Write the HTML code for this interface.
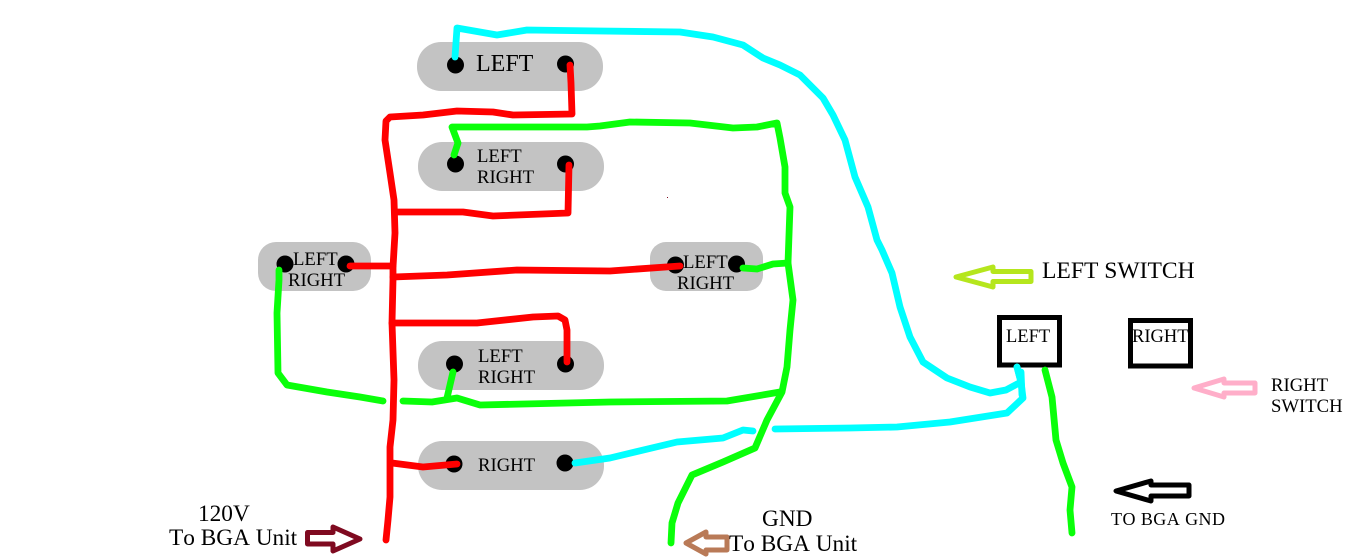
<!DOCTYPE html>
<html>
<head>
<meta charset="utf-8">
<style>
html,body{margin:0;padding:0;background:#fff;}
svg{display:block;}
text{font-family:"Liberation Serif",serif;fill:#000;font-kerning:none;}
.w{fill:none;stroke-width:6.8;stroke-linejoin:round;stroke-linecap:round;}
.r{stroke:#ff0000;}
.g{stroke:#0aff0a;}
.c{stroke:#00ffff;}
.a{fill:none;stroke-width:5;stroke-linejoin:round;}
</style>
</head>
<body>
<svg width="1360" height="557" viewBox="0 0 1360 557" xmlns="http://www.w3.org/2000/svg">
<rect width="1360" height="557" fill="#fff"/>
<g fill="#c3c3c3">
<rect x="417" y="42" width="186" height="49" rx="24"/>
<rect x="418" y="142" width="186" height="49" rx="24"/>
<rect x="258" y="242" width="113" height="49" rx="18"/>
<rect x="650" y="242" width="113" height="49" rx="16"/>
<rect x="418" y="341" width="186" height="49" rx="24"/>
<rect x="418" y="441" width="186" height="49" rx="24"/>
</g>
<g fill="#000">
<circle cx="455.5" cy="65" r="8.5"/><circle cx="565.5" cy="64" r="8.5"/>
<circle cx="455.5" cy="164" r="8.5"/><circle cx="565.5" cy="164" r="8.5"/>
<circle cx="285" cy="264" r="8.5"/><circle cx="346" cy="264" r="8.5"/>
<circle cx="675.5" cy="265" r="8.5"/><circle cx="736.5" cy="264" r="8.5"/>
<circle cx="454.5" cy="364" r="8.5"/><circle cx="565.5" cy="364" r="8.5"/>
<circle cx="454" cy="464" r="8.5"/><circle cx="565" cy="463" r="8.5"/>
</g>
<text x="476" y="71" font-size="24">LEFT</text>
<text x="477" y="162" font-size="18.7">LEFT</text>
<text x="477" y="183" font-size="18.7">RIGHT</text>
<text x="293" y="265" font-size="18.7">LEFT</text>
<text x="288" y="286" font-size="18.7">RIGHT</text>
<text x="683" y="268" font-size="18.7">LEFT</text>
<text x="677" y="289" font-size="18.7">RIGHT</text>
<text x="478" y="362" font-size="18.7">LEFT</text>
<text x="478" y="383" font-size="18.7">RIGHT</text>
<text x="478" y="471" font-size="18.7">RIGHT</text>
<text x="198" y="521" font-size="23.3">120V</text>
<text x="169" y="545" font-size="23.3">To BGA Unit</text>
<text x="762" y="526" font-size="23.3">GND</text>
<text x="729" y="551" font-size="23.3">To BGA Unit</text>
<text x="1042" y="278" font-size="23.6">LEFT SWITCH</text>
<text x="1006" y="342" font-size="18.5">LEFT</text>
<text x="1132" y="342" font-size="18.5">RIGHT</text>
<text x="1271" y="391" font-size="18.7">RIGHT</text>
<text x="1271" y="412" font-size="18.7">SWITCH</text>
<text x="1111" y="525" font-size="18" textLength="114">TO BGA GND</text>
<rect x="999.5" y="317.5" width="60" height="47.5" fill="none" stroke="#000" stroke-width="5"/>
<rect x="1130.5" y="320.5" width="60" height="45.5" fill="none" stroke="#000" stroke-width="5"/>
<polyline class="w r" points="570,65 571,83 572,114 513,115 493,112 457,111 423,115 390,117 386,121 385,140 390,173 394,200 395,233 393,267 393,280 392,323 394,380 393,420 390,447 390,497 388,520 386,540"/>
<polyline class="w r" points="569,165 568,213 493,216 463,212 395,212"/>
<polyline class="w r" points="350,266 393,266"/>
<polyline class="w r" points="393,277 447,275 517,270 610,271 680,266"/>
<polyline class="w r" points="392,323 477,323 533,317 558,316 565,320 567,330 567,362"/>
<polyline class="w r" points="392,463 423,467 457,464"/>
<polyline class="w c" points="455,57 457,28 497,35 527,30 600,31 680,32 713,37 743,45 763,58 780,65 800,75 823,98 833,115 845,140 855,177 868,207 877,240 882,250 892,273 900,307 910,337 923,362 947,378 970,387 990,393 1006,390 1021,382 1017,367"/>
<polyline class="w c" points="575,463 610,458 677,442 723,438 743,430 753,431"/>
<polyline class="w c" points="775,429 850,428 897,427 950,422 1007,413 1023,398 1021,382 1017,367"/>
<polyline class="w c" points="1021,372 1022,395"/>
<polyline class="w g" points="454,155 458,143 452,127 587,127 600,126 630,122 690,123 733,128 757,127 777,123 780,138 785,167 785,193 790,207 788,263 793,300 790,330 787,367 782,392 767,420 755,448 723,462 692,475 678,503 672,523 671,543"/>
<polyline class="w g" points="403,401 432,402 457,398 480,405 610,402 727,401 780,392"/>
<polyline class="w g" points="453,372 447,398"/>
<polyline class="w g" points="279,270 279,280 277,313 278,373 287,385 327,392 360,397 383,401"/>
<polyline class="w g" points="743,268 757,269 773,264 788,263"/>
<polyline class="w g" points="1045,370 1052,397 1056,440 1063,463 1072,487 1070,510 1072,533"/>
<path class="a" stroke="#7f0a20" d="M307.5,532.5H333V527L360,539L333,551V544H307.5Z"/>
<path class="a" stroke="#b97a57" d="M727,537H706V532L686,543L706,554V550H727Z"/>
<path class="a" stroke="#b5e61d" d="M1031,271.5H993V267L956,277L993,287V281.5H1031Z"/>
<path class="a" stroke="#ffaec9" d="M1255,383H1224V379L1194,388L1224,397V393H1255Z"/>
<path class="a" stroke="#000" d="M1189,485H1151V481L1116,491L1151,501V496H1189Z"/>
<rect x="667" y="197" width="1" height="1" fill="#7f0a20"/>
</svg>
</body>
</html>
